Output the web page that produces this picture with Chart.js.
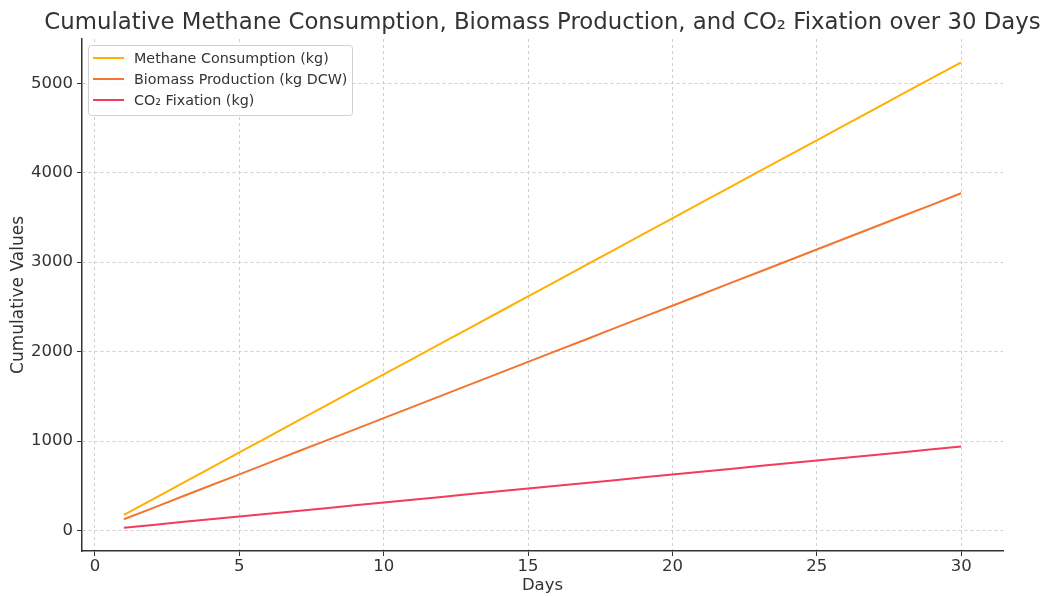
<!DOCTYPE html>
<html>
<head>
<meta charset="utf-8">
<script src="https://cdn.jsdelivr.net/npm/chart.js@4/dist/chart.umd.min.js"></script>
<style>
  html, body { margin: 0; padding: 0; background: #fff; }
  #wrap { width: 1044px; height: 596px; }
</style>
</head>
<body>
<div id="wrap"><canvas id="chart"></canvas></div>
<script>
const days = [1,2,3,4,5,6,7,8,9,10,11,12,13,14,15,16,17,18,19,20,21,22,23,24,25,26,27,28,29,30];
const methane = [175,349,524,698,873,1047,1222,1396,1571,1745,1920,2094,2269,2443,2618,2792,2967,3141,3316,3490,3665,3839,4014,4188,4363,4537,4712,4886,5061,5235];
const biomass = [126,251,377,503,628,754,880,1005,1131,1257,1382,1508,1634,1759,1885,2011,2136,2262,2388,2513,2639,2765,2890,3016,3142,3267,3393,3519,3644,3770];
const co2 = [31,63,94,125,157,188,219,250,282,313,344,376,407,438,470,501,532,563,595,626,657,689,720,751,783,814,845,876,908,939];
const xTicks = [0,5,10,15,20,25,30];
const yTicks = [0,1000,2000,3000,4000,5000];
const titleText = "Cumulative Methane Consumption, Biomass Production, and CO\u2082 Fixation over 30 Days";

const FONT = "'DejaVu Sans', sans-serif";

function pts(ys) {
  return days.map((d, i) => ({ x: d, y: ys[i] }));
}

// title centred over the plot area, legend boxed inside top-left
const overlay = {
  id: "overlay",
  afterDraw(chart) {
    const ctx = chart.ctx;
    const a = chart.chartArea;
    ctx.save();
    ctx.fillStyle = "#333";
    ctx.font = "22.8px " + FONT;
    ctx.textAlign = "center";
    ctx.textBaseline = "middle";
    ctx.fillText(titleText, (a.left + a.right) / 2, 23);

    const x0 = 88, y0 = 45, w = 264, h = 70;
    ctx.fillStyle = "rgba(255,255,255,0.85)";
    ctx.strokeStyle = "#d0d0d0";
    ctx.lineWidth = 1;
    ctx.beginPath();
    ctx.roundRect(x0 + 0.5, y0 + 0.5, w, h, 3);
    ctx.fill();
    ctx.stroke();
    ctx.font = "14.3px " + FONT;
    ctx.textAlign = "left";
    chart.data.datasets.forEach((ds, i) => {
      const y = 58 + i * 21;
      ctx.strokeStyle = ds.borderColor;
      ctx.lineWidth = 2;
      ctx.beginPath();
      ctx.moveTo(93, y);
      ctx.lineTo(124, y);
      ctx.stroke();
      ctx.fillStyle = "#333";
      ctx.fillText(ds.label, 134, y + 1);
    });
    ctx.restore();
  }
};

new Chart(document.getElementById("chart"), {
  type: "line",
  data: {
    datasets: [
      { label: "Methane Consumption (kg)", data: pts(methane), borderColor: "#ffb000", borderWidth: 2, pointRadius: 0, tension: 0 },
      { label: "Biomass Production (kg DCW)", data: pts(biomass), borderColor: "#f47430", borderWidth: 2, pointRadius: 0, tension: 0 },
      { label: "CO\u2082 Fixation (kg)", data: pts(co2), borderColor: "#f43b5c", borderWidth: 2, pointRadius: 0, tension: 0 }
    ]
  },
  options: {
    responsive: true,
    maintainAspectRatio: false,
    animation: false,
    layout: { padding: { left: 8, right: 41, top: 39, bottom: 0 } },
    plugins: { legend: { display: false }, title: { display: false }, tooltip: { enabled: false } },
    scales: {
      x: {
        type: "linear",
        min: -0.45,
        max: 31.45,
        afterBuildTicks: (s) => { s.ticks = xTicks.map(v => ({ value: v })); },
        afterFit: (s) => { s.height = 45; },
        grid: { color: "#cfcfcf", lineWidth: 1, tickLength: 5, tickColor: "#333" },
        border: { display: true, color: "#333", width: 1.5, dash: [3, 3] },
        ticks: { color: "#333", font: { family: FONT, size: 16.5 }, padding: 1, maxRotation: 0 },
        title: { display: true, text: "Days", color: "#333", font: { family: FONT, size: 16.5 }, padding: { top: 3, bottom: 0 } }
      },
      y: {
        min: -229,
        max: 5495,
        afterBuildTicks: (s) => { s.ticks = yTicks.map(v => ({ value: v })); },
        afterFit: (s) => { s.width = 74; },
        grid: { color: "#cfcfcf", lineWidth: 1, tickLength: 5, tickColor: "#333" },
        border: { display: true, color: "#333", width: 1.5, dash: [3, 3] },
        ticks: { color: "#333", font: { family: FONT, size: 16.5 }, padding: 4, callback: (v) => String(v) },
        title: { display: true, text: "Cumulative Values", color: "#333", font: { family: FONT, size: 17 }, padding: { top: 0, bottom: 4 } }
      }
    }
  },
  plugins: [overlay]
});
</script>
</body>
</html>
